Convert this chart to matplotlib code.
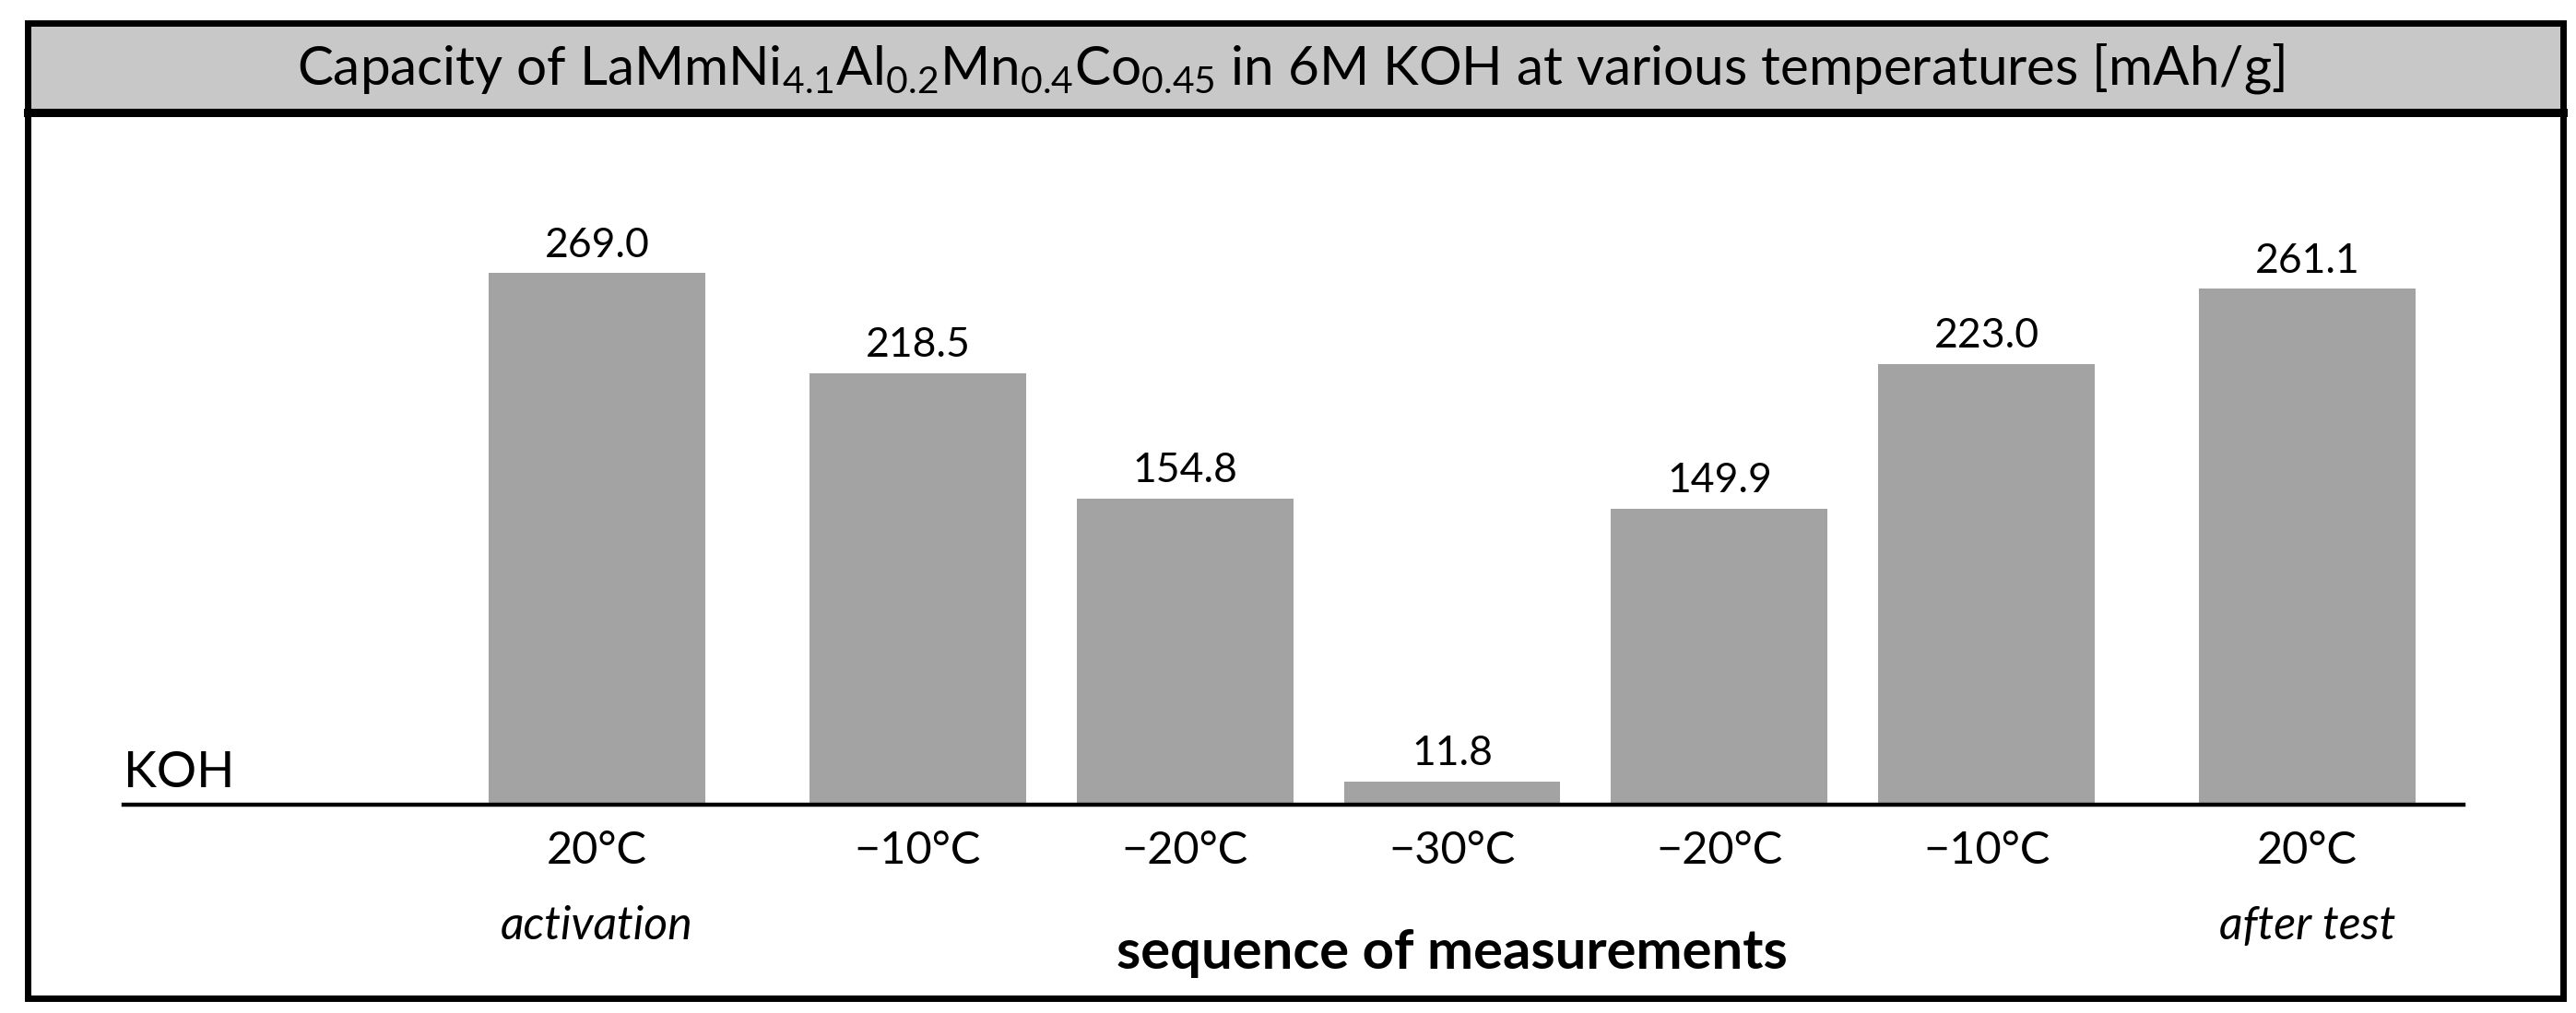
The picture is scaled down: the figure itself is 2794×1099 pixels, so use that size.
import matplotlib
matplotlib.use("Agg")
import matplotlib.pyplot as plt
from matplotlib.patches import Rectangle
from matplotlib.lines import Line2D

#%% data
temps = ["20\u00b0C", "\u221210\u00b0C", "\u221220\u00b0C", "\u221230\u00b0C",
         "\u221220\u00b0C", "\u221210\u00b0C", "20\u00b0C"]
notes = ["activation", "", "", "", "", "", "after test"]
capacity = [269.0, 218.5, 154.8, 11.8, 149.9, 223.0, 261.1]

# bar positions (first and last bar are set a bit apart)
xpos = [0, 1.2, 2.2, 3.2, 4.2, 5.2, 6.4]

#%% style
plt.rcParams['font.family'] = ['Lato', 'DejaVu Sans']
plt.rcParams['mathtext.fontset'] = 'custom'
plt.rcParams['mathtext.rm'] = 'Lato'
plt.rcParams['mathtext.it'] = 'Lato:italic'
plt.rcParams['mathtext.bf'] = 'Lato:bold'

W, H = 2794, 1099
fig = plt.figure(figsize=(W / 100, H / 100), dpi=100)

def fx(px):
    return px / W

def fy(py):
    return 1 - py / H

# outer frame and title band
fig.patches.append(Rectangle((fx(30), fy(122)), fx(2780) - fx(30), fy(25) - fy(122),
                             transform=fig.transFigure, facecolor="#c8c8c8",
                             edgecolor="none", zorder=0))
fig.patches.append(Rectangle((fx(30), fy(1083)), fx(2780) - fx(30), fy(25) - fy(1083),
                             transform=fig.transFigure, facecolor="none",
                             edgecolor="black", linewidth=5, zorder=5))
fig.lines.append(Line2D([fx(30), fx(2780)], [fy(122), fy(122)], transform=fig.transFigure,
                        color="black", linewidth=6.5, zorder=5))

title = (r"Capacity of LaMmNi$_{4.1}$Al$_{0.2}$Mn$_{0.4}$Co$_{0.45}$"
         r" in 6M KOH at various temperatures [mAh/g]")
fig.text(fx(1400), fy(74), title, ha="center", va="center", fontsize=42)

#%% axes
ax = fig.add_axes([fx(134), fy(873), fx(2672) - fx(134), fy(170) - fy(873)])
ax.bar(xpos, capacity, width=0.81, color="#a3a3a3", zorder=2)
ax.set_xlim(-1.772, 6.985)
ax.set_ylim(0, 328)

for x, v in zip(xpos, capacity):
    ax.annotate(f"{v:.1f}", xy=(x, v), xytext=(0, 7), textcoords="offset points",
                ha="center", va="bottom", fontsize=32)

ax.set_xticks(xpos)
ax.set_xticklabels(temps, fontsize=35)
ax.tick_params(axis="x", length=0, pad=20)
ax.set_yticks([])
for s in ["left", "right", "top"]:
    ax.spines[s].set_visible(False)
ax.spines["bottom"].set_linewidth(3.2)

for x, n in zip(xpos, notes):
    if n:
        ax.annotate(n, xy=(x, 0), xytext=(0, -95), textcoords="offset points",
                    ha="center", va="center", fontsize=36, style="italic")

ax.annotate("KOH", xy=(0, 0), xycoords="axes fraction", xytext=(0, 7),
            textcoords="offset points", ha="left", va="bottom", fontsize=39)

ax.annotate("sequence of measurements", xy=(xpos[3], 0), xytext=(0, -116),
            textcoords="offset points", ha="center", va="center",
            fontsize=43, fontweight="bold")

fig.savefig("out.png", dpi=100)
